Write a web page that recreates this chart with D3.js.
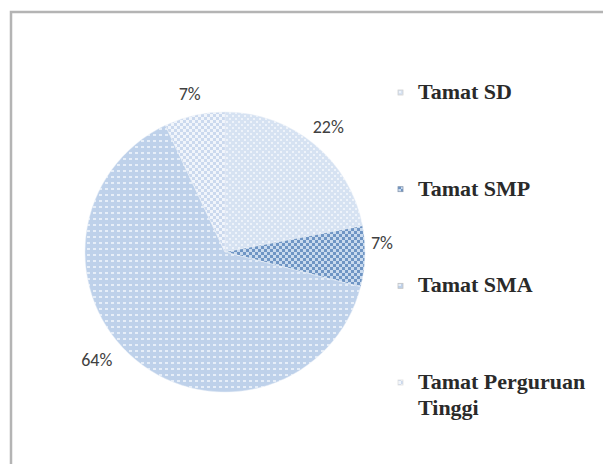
<!DOCTYPE html>
<html><head><meta charset="utf-8">
<script src="https://cdn.jsdelivr.net/npm/d3@7"></script>
<style>html,body{margin:0;padding:0;background:#fff;}</style>
</head><body>
<svg id="c" width="603" height="464"></svg>
<script>
const categories = ["Tamat SD", "Tamat SMP", "Tamat SMA", "Tamat Perguruan Tinggi"];
const values = [22, 7, 64, 7];
const labels = ["22%", "7%", "64%", "7%"];

const svg = d3.select("#c");
const W = 603, H = 464;
svg.append("rect").attr("width", W).attr("height", H).attr("fill", "#fff");
// chart frame
svg.append("rect").attr("x", 11).attr("y", 12).attr("width", 700).attr("height", 600)
  .attr("fill", "#fff").attr("stroke", "#b4b4b4").attr("stroke-width", 2.5);

const defs = svg.append("defs");
const pats = [
  {id: "p0", bg: "#d6e2f2", fg: "#eef3fa", type: "dots"},
  {id: "p1", bg: "#c9daee", fg: "#6f95c4", type: "check"},
  {id: "p2", bg: "#bed1ea", fg: "#e6eef8", type: "dash"},
  {id: "p3", bg: "#f1f5fb", fg: "#cbd9ee", type: "check"}
];
pats.forEach(p => {
  const pt = defs.append("pattern").attr("id", p.id).attr("patternUnits", "userSpaceOnUse")
    .attr("width", 6).attr("height", 6);
  pt.append("rect").attr("width", 6).attr("height", 6).attr("fill", p.bg);
  if (p.type === "check") {
    pt.append("rect").attr("x", 0).attr("y", 0).attr("width", 3).attr("height", 3).attr("fill", p.fg);
    pt.append("rect").attr("x", 3).attr("y", 3).attr("width", 3).attr("height", 3).attr("fill", p.fg);
  } else if (p.type === "dots") {
    pt.append("rect").attr("x", 1).attr("y", 1).attr("width", 2).attr("height", 2).attr("fill", p.fg);
    pt.append("rect").attr("x", 4).attr("y", 4).attr("width", 2).attr("height", 2).attr("fill", p.fg);
  } else {
    pt.append("rect").attr("x", 0).attr("y", 2).attr("width", 3).attr("height", 2).attr("fill", p.fg);
  }
});

const cx = 225, cy = 252, R = 140;
const pie = d3.pie().sort(null).value(d => d)(values);
const arc = d3.arc().innerRadius(0).outerRadius(R);
const g = svg.append("g").attr("transform", `translate(${cx},${cy})`);
g.selectAll("path").data(pie).join("path")
  .attr("d", arc)
  .attr("fill", (d, i) => `url(#p${i})`)
  .attr("stroke", "#e8eef7").attr("stroke-width", 0.5);

const labelArc = d3.arc().innerRadius(162).outerRadius(162);
g.selectAll("text.pct").data(pie).join("text").attr("class", "pct")
  .attr("transform", (d, i) => {
    const c = labelArc.centroid(d);
    const dx = i === 2 ? -25 : (i === 1 ? -5 : 0);
    const dy = i === 2 ? -17 : (i === 1 ? -14 : 0);
    return `translate(${c[0] + dx},${c[1] + dy})`;
  })
  .attr("text-anchor", "middle").attr("dy", "0.35em")
  .attr("font-family", "Carlito, 'Liberation Sans', Arial, sans-serif")
  .attr("font-size", 18).attr("fill", "#404040")
  .text((d, i) => labels[i]);

// legend
const leg = svg.append("g").attr("transform", "translate(398,0)");
const ly = d3.scalePoint().domain(categories).range([92, 382]);
const legMarkFill = ["#d0d0d0", "#8a9ab0", "#c4c4c4", "#dedede"];
categories.forEach((c, i) => {
  const y = ly(c);
  leg.append("rect").attr("x", 0).attr("y", y - 2).attr("width", 5).attr("height", 5)
    .attr("fill", `url(#p${i})`).attr("stroke", legMarkFill[i]).attr("stroke-width", 0.8);
  const t = leg.append("text").attr("x", 20).attr("y", y + 7)
    .attr("font-family", "'Liberation Serif', 'Times New Roman', 'DejaVu Serif', serif")
    .attr("font-size", 22).attr("font-weight", "bold").attr("fill", "#2a2a2a");
  if (c === "Tamat Perguruan Tinggi") {
    t.append("tspan").attr("x", 20).text("Tamat Perguruan");
    t.append("tspan").attr("x", 20).attr("dy", 26).text("Tinggi");
  } else t.text(c);
});
</script>
</body></html>
